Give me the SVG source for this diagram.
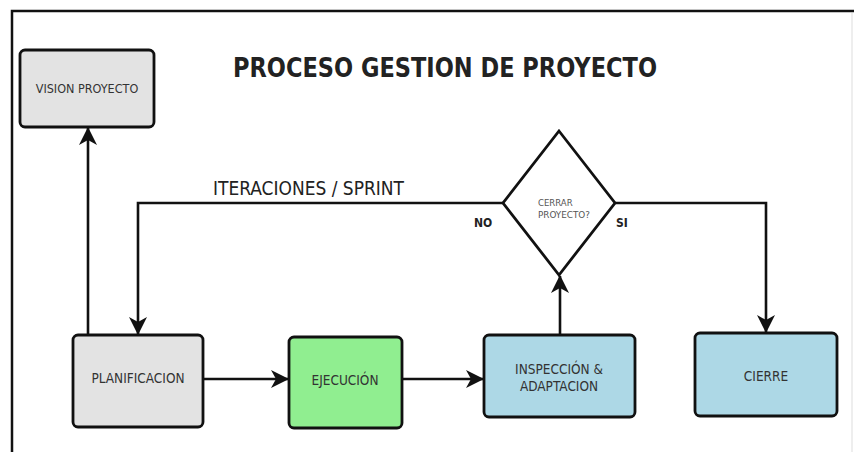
<svg xmlns="http://www.w3.org/2000/svg" width="854" height="452" viewBox="0 0 854 452">
<style>
.box{stroke:#111;stroke-width:2.8}
.lbl{font-family:"DejaVu Sans Condensed","DejaVu Sans",sans-serif;font-stretch:condensed;font-size:13.5px;fill:#333;text-anchor:middle}
.conn{fill:none;stroke:#111;stroke-width:2.6}
.bold{font-family:"DejaVu Sans Condensed","DejaVu Sans",sans-serif;font-stretch:condensed;font-weight:bold;fill:#222}
.small{font-family:"DejaVu Sans Condensed","DejaVu Sans",sans-serif;font-stretch:condensed;font-size:9.5px;fill:#555}
</style>
<defs>
<marker id="ah" viewBox="0 0 18 18" refX="17" refY="9" markerWidth="18" markerHeight="18" markerUnits="userSpaceOnUse" orient="auto">
<path d="M0,0 L18,9 L0,18 L5,9 Z" fill="#111"/>
</marker>
</defs>
<rect width="854" height="452" fill="#fff"/>
<g id="frame">
<path d="M12,452 V11 H854" fill="none" stroke="#111" stroke-width="2.5"/>
<line x1="852" y1="13" x2="852" y2="452" stroke="#ddd" stroke-width="1"/>
</g>
<text id="title" class="bold" x="233" y="77" font-size="27" textLength="424" lengthAdjust="spacingAndGlyphs">PROCESO GESTION DE PROYECTO</text>
<g id="connectors">
<line class="conn" x1="88" y1="335" x2="88" y2="128" marker-end="url(#ah)"/>
<path class="conn" d="M503,203 H138 V334" marker-end="url(#ah)"/>
<path class="conn" d="M615,203 H766 V332" marker-end="url(#ah)"/>
<line class="conn" x1="560" y1="335" x2="560" y2="276" marker-end="url(#ah)"/>
<line class="conn" x1="203" y1="379" x2="288" y2="379" marker-end="url(#ah)"/>
<line class="conn" x1="402" y1="379" x2="483" y2="379" marker-end="url(#ah)"/>
<text x="213" y="195" font-family="'DejaVu Sans Condensed','DejaVu Sans',sans-serif" style="font-stretch:condensed" font-size="19" fill="#222" textLength="191" lengthAdjust="spacingAndGlyphs">ITERACIONES / SPRINT</text>
<text class="bold" x="474" y="227" font-size="12">NO</text>
<text class="bold" x="616" y="227" font-size="12">SI</text>
</g>
<g id="vision">
<rect class="box" x="20" y="50" width="134" height="77" rx="5" fill="#e3e3e3"/>
<text class="lbl" x="87" y="93" style="font-size:12.5px">VISION PROYECTO</text>
</g>
<g id="decision">
<polygon class="box" points="559,131 615,203 559,275 503,203" fill="#fff"/>
<text class="small" x="538" y="206">CERRAR</text>
<text class="small" x="538" y="218" textLength="52" lengthAdjust="spacingAndGlyphs">PROYECTO?</text>
</g>
<g id="planificacion">
<rect class="box" x="73" y="335" width="130" height="92" rx="5" fill="#e3e3e3"/>
<text class="lbl" x="138" y="383">PLANIFICACION</text>
</g>
<g id="ejecucion">
<rect class="box" x="289" y="337" width="113" height="91" rx="5" fill="#90ee90"/>
<text class="lbl" x="345" y="385">EJECUCIÓN</text>
</g>
<g id="inspeccion">
<rect class="box" x="484" y="335" width="151" height="82" rx="5" fill="#add8e6"/>
<text class="lbl" x="559" y="374">INSPECCIÓN &amp;</text>
<text class="lbl" x="559" y="391">ADAPTACION</text>
</g>
<g id="cierre">
<rect class="box" x="695" y="333" width="142" height="83" rx="5" fill="#add8e6"/>
<text class="lbl" x="766" y="381">CIERRE</text>
</g>
</svg>
